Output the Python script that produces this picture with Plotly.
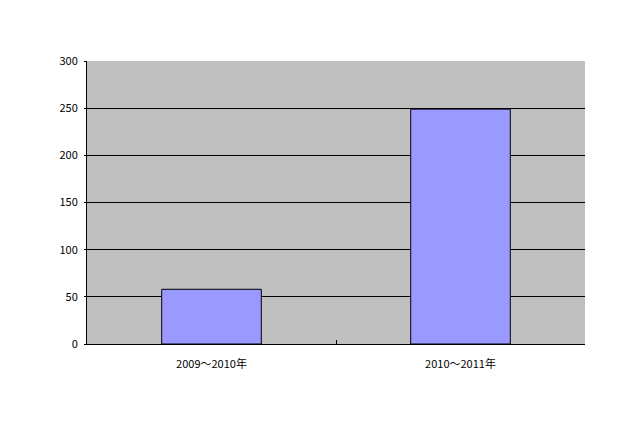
import plotly.graph_objects as go

categories = ["2009～2010年", "2010～2011年"]
values = [58, 249]
y_ticks = [0, 50, 100, 150, 200, 250, 300]

fig = go.Figure()
fig.add_trace(go.Bar(
    x=categories, y=values, width=0.4,
    marker=dict(color="#9999FF", line=dict(color="#000000", width=1)),
))
fig.update_layout(
    width=640, height=426,
    margin=dict(l=79, r=63, t=53, b=90),
    paper_bgcolor="#FFFFFF", plot_bgcolor="#C0C0C0",
    showlegend=False,
    font=dict(family="Noto Sans CJK JP, sans-serif", size=11, color="#000000"),
)
fig.update_xaxes(
    showgrid=False, showline=True, linecolor="#000000", linewidth=1,
    ticks="inside", tickson="boundaries", ticklen=4, tickcolor="#000000",
    tickfont=dict(size=11), ticklabelstandoff=10,
)
fig.update_yaxes(
    range=[0, 300], tickvals=y_ticks, showgrid=True, gridcolor="#000000", gridwidth=1,
    showline=True, linecolor="#000000", linewidth=1, zeroline=False,
    ticks="outside", ticklen=2, tickcolor="#000000", tickfont=dict(size=11),
    ticklabelstandoff=4,
)
fig.write_html("out.html")
